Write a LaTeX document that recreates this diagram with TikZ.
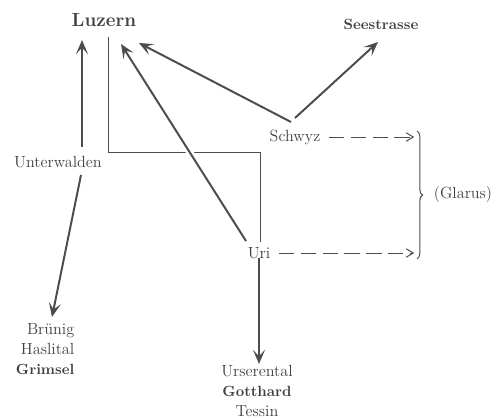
\documentclass[tikz,border=0pt]{standalone}
\usetikzlibrary{arrows.meta,decorations.pathreplacing}
\begin{document}
\begin{tikzpicture}[x=0.025cm,y=-0.025cm] % 1 unit = 1 px of the sketch
\tikzstyle{ort} = [inner sep=1pt, text=black!75, font=\fontsize{11.5}{14.2}\selectfont] % place name
\tikzstyle{haupt} = [inner sep=1pt, text=black!75, font=\bfseries\fontsize{13.5}{16}\selectfont] % main place
\tikzstyle{fett} = [ort, font=\bfseries\fontsize{10.5}{14.2}\selectfont]
\tikzstyle{weg} = [draw=black!70, line width=1.4pt, -{Stealth[length=10pt, width=8.5pt, inset=4.5pt]}] % route
\tikzstyle{strich} = [draw=black!70, line width=0.7pt, dash pattern=on 11pt off 4.5pt, -{Straight Barb[length=5pt, width=6pt]}]
\tikzstyle{grenze} = [draw=black!70, line width=0.7pt]

\useasboundingbox (0,0) rectangle (496,419);

% orte
\node[haupt] (luzern) at (104,20) {Luzern};
\node[fett] (see) at (381,24) {Seestrasse};
\node[ort] (unterwalden) at (58,162) {Unterwalden};
\node[ort] (schwyz) at (295,137) {Schwyz};
\node[ort] (uri) at (259,253) {Uri};
\node[ort] (glarus) at (463,194) {(Glarus)};
\node[ort, align=right, anchor=north east] (bruenig) at (76,322) {Brünig\\Haslital\\{\bfseries\fontsize{10.5}{14.2}\selectfont Grimsel}};
\node[ort, align=center, anchor=north] (urs) at (257,364) {Urserental\\{\bfseries\fontsize{10.5}{14.2}\selectfont Gotthard}\\Tessin};

% endpunkte
\coordinate (lz1) at (82,40);
\coordinate (lz2) at (121,44);
\coordinate (lz3) at (139,43);
\coordinate (sw1) at (291,122);
\coordinate (sw2) at (295,118);
\coordinate (se1) at (378,42);
\coordinate (ur1) at (246,241);
\coordinate (uw0) at (82,147);
\coordinate (uw1) at (81,175);
\coordinate (br1) at (52,317);
\coordinate (kl1) at (417,131);
\coordinate (kl2) at (417,259);

% grenze
\draw[grenze] (108,37) -- (108,152) -- (260,152) -- (260,242);

% wege
\draw[weg] (uw0) -- (lz1);
\draw[weg] (uw1) -- (br1);
\draw[weg] (sw1) -- (lz3);
\draw[weg] (sw2) -- (se1);
\draw[weg, preaction={draw=white, line width=5pt, -}] (ur1) -- (lz2);
\draw[weg] (uri.south) ++(0,-2) -- (uri.south |- urs.north);

% nach glarus
\draw[strich, shorten <=5pt, shorten >=2pt] (schwyz.east) -- (schwyz.east -| kl1);
\draw[strich, shorten <=5pt, shorten >=2pt] (uri.east) -- (uri.east -| kl1);
\draw[grenze, decorate, decoration={brace, amplitude=4pt}] (kl1) -- (kl2);
\end{tikzpicture}
\end{document}
